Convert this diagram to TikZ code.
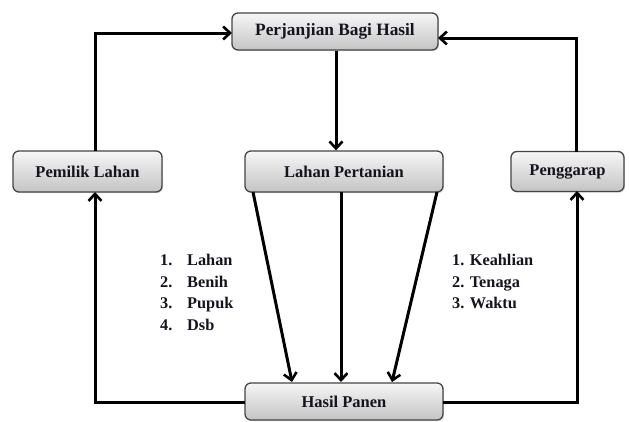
\documentclass[tikz,border=0pt]{standalone}
\usepackage{fontspec}
\setmainfont{Liberation Serif}
\usetikzlibrary{arrows.meta,shadows}
\definecolor{txt}{HTML}{14141F}
\definecolor{boxtop}{HTML}{F6F6F6}
\definecolor{boxbot}{HTML}{C4C4C4}
\definecolor{boxline}{HTML}{454545}
\begin{document}
\begin{tikzpicture}[x=1pt,y=-1pt,
  boxnode/.style={draw=boxline, line width=1.3pt, rounded corners=6pt,
    top color=boxtop, bottom color=boxbot, inner sep=0pt,
    drop shadow={shadow xshift=1.2pt, shadow yshift=-1.2pt, opacity=0.25},
    font=\fontsize{16.5}{18}\selectfont\bfseries, text=txt},
  arr/.style={line width=3pt, -{Straight Barb[length=7pt,width=13pt,line width=2.6pt]}},
  lst/.style={font=\fontsize{16.3}{18}\selectfont\bfseries, text=txt, anchor=base west, inner sep=0pt}]
\useasboundingbox (0,0) rectangle (629,421);
% boxes
\node[boxnode, minimum width=206pt, minimum height=37pt, font=\fontsize{17.3}{19}\selectfont\bfseries] (T) at (335,31.5) {Perjanjian Bagi Hasil};
\node[boxnode, minimum width=149pt, minimum height=41pt] (P) at (87.5,171.5) {Pemilik Lahan};
\node[boxnode, minimum width=198pt, minimum height=41pt] (L) at (344,171.5) {Lahan Pertanian};
\node[boxnode, minimum width=113pt, minimum height=40pt] (G) at (567.5,171.5) {Penggarap};
\node[boxnode, minimum width=198pt, minimum height=37pt] (H) at (344,401.5) {Hasil Panen};
% coordinates
\coordinate (Ptop) at (95,151);
\coordinate (Tl) at (232,33);
\coordinate (Gtop) at (576,152);
\coordinate (Tr) at (438,38);
\coordinate (Hl) at (245,402);
\coordinate (Hr) at (443,402);
\coordinate (Pbot) at (95,192);
\coordinate (Gbot) at (577,191);
\coordinate (L1) at (253,192);
\coordinate (L2) at (341,192);
\coordinate (L3) at (437,192);
\coordinate (H1) at (292,382);
\coordinate (H2) at (341,382);
\coordinate (H3) at (392,382);
% connectors
\draw[arr] (Ptop) |- (Tl);
\draw[arr] (Gtop) |- (Tr);
\draw[arr] (T.south -| 336,0) -- (L.north -| 336,0);
\draw[arr] (L1) -- (H1);
\draw[arr] (L2) -- (H2);
\draw[arr] (L3) -- (H3);
\draw[arr] (Hl) -| (Pbot);
\draw[arr] (Hr) -| (Gbot);
% lists
\node[lst] (n1) at (160,265) {1.};
\node[lst] (n2) at (160,287) {2.};
\node[lst] (n3) at (160,308.5) {3.};
\node[lst] (n4) at (160,330.5) {4.};
\node[lst] (w1) at (187,265) {Lahan};
\node[lst] (w2) at (187,287) {Benih};
\node[lst] (w3) at (187,308.5) {Pupuk};
\node[lst] (w4) at (187,330.5) {Dsb};
\node[lst] (r1) at (452,265) {1. Keahlian};
\node[lst] (r2) at (452,287) {2. Tenaga};
\node[lst] (r3) at (452,308.5) {3. Waktu};
\end{tikzpicture}
\end{document}
